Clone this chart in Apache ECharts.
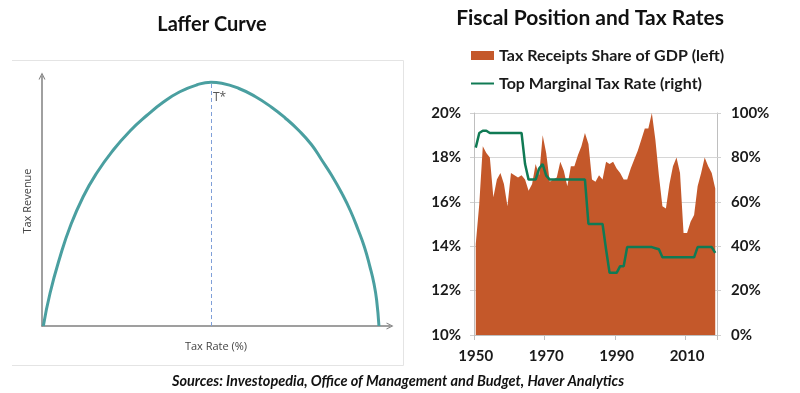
<!DOCTYPE html>
<html><head><meta charset="utf-8">
<script src="https://cdn.jsdelivr.net/npm/echarts@6/dist/echarts.min.js"></script>
<style>html,body{margin:0;padding:0;background:#fff}#c{width:800px;height:393px}</style>
</head><body><div id="c"></div>
<script>
// ---------- Laffer curve (left panel) ----------
const lafferRate    = [0.4, 2.4, 5.4, 8.4, 12.3, 16.3, 21.3, 26.3, 31.3, 36.3, 41.2, 46.2, 50.5, 53.7, 58.7, 63.7, 68.6, 72.6, 76.6, 80.5, 83.6, 86.6, 89.6, 92.2, 94.5, 96.4, 98.0, 99.2, 100.0, 100.7];
const lafferRevenue = [0,   13.1, 27.7, 39.7, 51.7, 61.1, 70.4, 78.0, 84.2, 89.6, 93.7, 96.4, 97.5, 97.1, 95.1, 91.8, 87.5, 83.3, 78.4, 72.6, 66.4, 60.2, 53.1, 46.0, 38.4, 31.4, 23.7, 17.0, 10.4, 0];
const optimumRate = 50.5;
const optimumRevenue = 97.5;

// ---------- Fiscal position (right panel) ----------
const years = ['1950','1951','1952','1953','1954','1955','1956','1957','1958','1959',
  '1960','1961','1962','1963','1964','1965','1966','1967','1968','1969',
  '1970','1971','1972','1973','1974','1975','1976','1977','1978','1979',
  '1980','1981','1982','1983','1984','1985','1986','1987','1988','1989',
  '1990','1991','1992','1993','1994','1995','1996','1997','1998','1999',
  '2000','2001','2002','2003','2004','2005','2006','2007','2008','2009',
  '2010','2011','2012','2013','2014','2015','2016','2017','2018'];
const taxReceipts = [14.1,15.9,18.5,18.2,18.0,16.2,17.0,17.3,16.8,15.8,
  17.3,17.2,17.1,17.2,17.0,16.5,16.8,17.7,17.2,19.0,
  18.2,16.9,17.0,17.1,17.8,17.4,16.7,17.6,17.6,18.1,
  18.5,19.1,18.6,17.0,16.9,17.2,17.0,17.8,17.7,17.8,
  17.5,17.3,17.0,17.0,17.5,17.9,18.3,18.8,19.3,19.3,
  20.0,18.8,17.2,15.8,15.7,16.8,17.6,18.0,17.3,14.6,
  14.6,15.1,15.4,16.7,17.3,18.0,17.6,17.3,16.6];
const topRate = [84.4,91,92,92,91,91,91,91,91,91,
  91,91,91,91,77,70,70,70,75,77,
  71.8,70,70,70,70,70,70,70,70,70,
  70,70,50,50,50,50,50,38.5,28,28,
  28,31,31,39.6,39.6,39.6,39.6,39.6,39.6,39.6,
  39.6,39.1,38.6,35,35,35,35,35,35,35,
  35,35,35,39.6,39.6,39.6,39.6,39.6,37];
const xLabelYears = ['1950','1970','1990','2010'];
const leftAxisMin = 10, leftAxisMax = 20, leftAxisStep = 2;
const rightAxisMin = 0, rightAxisMax = 100, rightAxisStep = 20;

const S1 = 'Tax Receipts Share of GDP (left)';
const S2 = 'Top Marginal Tax Rate (right)';
const FONT = 'Lato';
const ORANGE = '#c4582a', GREEN = '#107a54', TEAL = '#4a9fa0';
const chevron = 'path://M0,10 L5,0 L10,10 L8.4,10 L5,3.2 L1.6,10 Z';

const chart = echarts.init(document.getElementById('c'), null, {renderer: 'canvas'});
const pick = (i, v) => xLabelYears.indexOf(v) >= 0;

chart.setOption({
  animation: false,
  backgroundColor: '#fff',
  graphic: [
    {type: 'polyline', shape: {points: [[12, 60.5], [403.5, 60.5], [403.5, 365.5], [12, 365.5]]},
     style: {fill: 'none', stroke: '#e4e4e4', lineWidth: 1}, silent: true},
    {type: 'text', style: {text: 'Laffer Curve', x: 212, y: 25, align: 'center', textAlign: 'center',
      verticalAlign: 'middle', textVerticalAlign: 'middle', fill: '#111',
      font: 'bold 20px ' + FONT}},
    {type: 'text', style: {text: 'Fiscal Position and Tax Rates', x: 590, y: 18, align: 'center', textAlign: 'center',
      verticalAlign: 'middle', textVerticalAlign: 'middle', fill: '#111',
      font: 'bold 21px ' + FONT}},
    {type: 'text', style: {text: 'Sources: Investopedia, Office of Management and Budget, Haver Analytics',
      x: 398, y: 381, align: 'center', textAlign: 'center', verticalAlign: 'middle', textVerticalAlign: 'middle',
      fill: '#111', font: 'italic bold 14.5px ' + FONT}}
  ],
  legend: {
    orient: 'vertical', left: 465, top: 41, itemWidth: 23, itemHeight: 9, itemGap: 9,
    textStyle: {fontFamily: FONT, fontWeight: 'bold', fontSize: 16, color: '#1a1a1a', lineHeight: 19},
    data: [
      {name: S1, icon: 'rect', itemStyle: {color: ORANGE}},
      {name: S2, itemStyle: {color: 'rgba(0,0,0,0)', borderWidth: 0, opacity: 0}}
    ]
  },
  grid: [
    {left: 42, top: 76, width: 348, height: 250},
    {left: 474, top: 113, width: 243, height: 222}
  ],
  xAxis: [
    {gridIndex: 0, type: 'value', min: 0, max: 104,
     axisLine: {show: true, lineStyle: {color: '#808080', width: 1.5}, symbol: ['none', chevron], symbolSize: [7, 8]},
     axisTick: {show: false}, axisLabel: {show: false}, splitLine: {show: false},
     name: 'Tax Rate (%)', nameLocation: 'middle', nameGap: 15,
     nameTextStyle: {fontFamily: 'Open Sans', fontSize: 11, color: '#444'}},
    {gridIndex: 1, type: 'category', data: years, boundaryGap: true,
     axisLine: {lineStyle: {color: '#bfbfbf'}},
     axisTick: {show: true, interval: pick, length: 5, lineStyle: {color: '#bfbfbf'}},
     axisLabel: {interval: pick, fontFamily: FONT, fontWeight: 'bold', fontSize: 15, color: '#1a1a1a', margin: 14},
     splitLine: {show: false}}
  ],
  yAxis: [
    {gridIndex: 0, type: 'value', min: 0, max: 100,
     axisLine: {show: true, lineStyle: {color: '#808080', width: 1.5}, symbol: ['none', chevron], symbolSize: [7, 8]},
     axisTick: {show: false}, axisLabel: {show: false}, splitLine: {show: false},
     name: 'Tax Revenue', nameLocation: 'middle', nameGap: 9,
     nameTextStyle: {fontFamily: 'Open Sans', fontSize: 11, color: '#444'}},
    {gridIndex: 1, type: 'value', position: 'left', min: leftAxisMin, max: leftAxisMax, interval: leftAxisStep,
     axisLine: {show: true, lineStyle: {color: '#bfbfbf'}},
     axisTick: {show: true, length: 4, lineStyle: {color: '#d0d0d0'}},
     axisLabel: {formatter: '{value}%', fontFamily: FONT, fontWeight: 'bold', fontSize: 15, color: '#1a1a1a', margin: 13},
     splitLine: {lineStyle: {color: '#d6d6d6'}}},
    {gridIndex: 1, type: 'value', position: 'right', min: rightAxisMin, max: rightAxisMax, interval: rightAxisStep,
     axisLine: {show: true, lineStyle: {color: '#bfbfbf'}},
     axisTick: {show: true, length: 4, lineStyle: {color: '#d0d0d0'}},
     axisLabel: {formatter: '{value}%', fontFamily: FONT, fontWeight: 'bold', fontSize: 15, color: '#1a1a1a', margin: 14},
     splitLine: {show: false}}
  ],
  series: [
    {type: 'line', xAxisIndex: 0, yAxisIndex: 0, smooth: 0.5, symbol: 'none',
     data: lafferRate.map((r, i) => [r, lafferRevenue[i]]),
     lineStyle: {color: TEAL, width: 3},
     markLine: {silent: true, symbol: 'none', label: {show: false},
       lineStyle: {color: '#7f9fd8', type: [4, 3], width: 1},
       data: [[{coord: [optimumRate, 0]}, {coord: [optimumRate, optimumRevenue]}]]},
     markPoint: {silent: true, symbol: 'circle', symbolSize: 0,
       label: {show: true, formatter: 'T*', position: 'right', distance: 0, fontFamily: 'Open Sans', fontSize: 12, color: '#555'},
       data: [{coord: [optimumRate + 0.6, 91.5]}]}},
    {name: S1, type: 'line', xAxisIndex: 1, yAxisIndex: 1, data: taxReceipts, symbol: 'none',
     lineStyle: {width: 0, color: ORANGE}, itemStyle: {color: ORANGE},
     areaStyle: {color: ORANGE, opacity: 1, origin: 'start'}},
    {name: S2, type: 'line', xAxisIndex: 1, yAxisIndex: 2, data: topRate, symbol: 'none',
     lineStyle: {width: 2.5, color: GREEN}, itemStyle: {color: GREEN}}
  ]
});
</script></body></html>
